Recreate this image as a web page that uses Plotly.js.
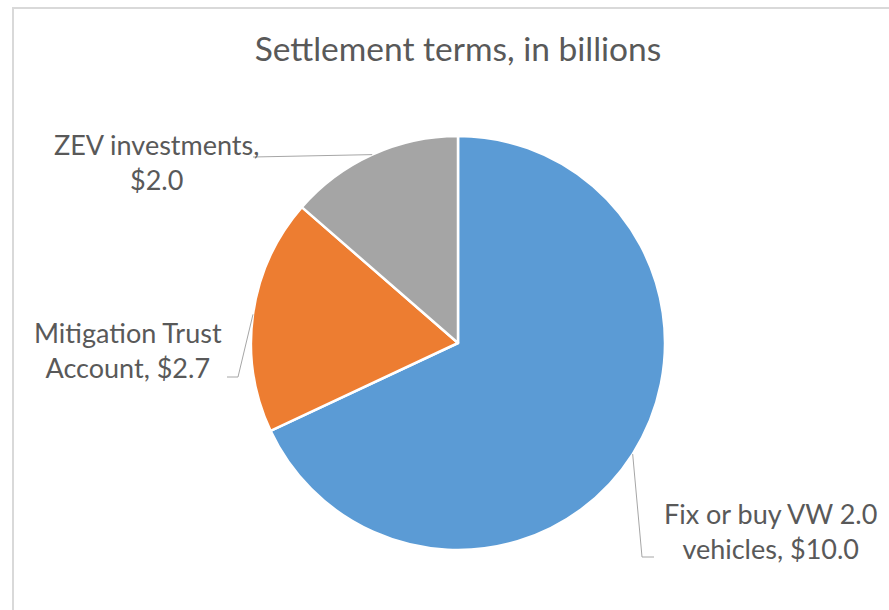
<!DOCTYPE html>
<html><head><meta charset="utf-8">
<script src="https://cdn.plot.ly/plotly-3.0.1.min.js"></script>
<style>html,body{margin:0;padding:0;background:#fff}#chart{width:889px;height:610px}</style>
</head><body><div id="chart"></div>
<script>
// ---- data ----
const categories = ["Fix or buy VW 2.0 vehicles", "Mitigation Trust Account", "ZEV investments"];
const values = [10.0, 2.7, 2.0];
const colors = ["#5B9BD5", "#ED7D31", "#A5A5A5"];
const chartTitle = "Settlement terms, in billions";
// character index where Excel wrapped each data label
const wrapAt = [17, 16, 16];

// ---- layout constants (pixels) ----
const W = 889, H = 610;
const cx = 458, cy = 343, R = 207;
const labelCenter = [[770, 531], [128, 350], [156, 162]];
const leaderElbow = [[642, 557], [238, 377], null];
const leaderEnd = [[654, 557], [227, 377], [253, 157]];
const FONT = "Lato, 'Open Sans', sans-serif";
const TXT = "#595959";

const px = x => x / W, py = y => 1 - y / H;

const total = values.reduce((a, b) => a + b, 0);
const annotations = [], shapes = [];
let cum = 0;
values.forEach((v, i) => {
  const full = categories[i] + ", $" + v.toFixed(1);
  const text = full.slice(0, wrapAt[i]) + "<br>" + full.slice(wrapAt[i] + 1);
  annotations.push({
    xref: "paper", yref: "paper", x: px(labelCenter[i][0]), y: py(labelCenter[i][1]),
    xanchor: "center", yanchor: "middle", align: "center", showarrow: false,
    text: text, font: {family: FONT, size: 27, color: TXT}
  });
  const mid = (cum + v / 2) / total * 2 * Math.PI;
  cum += v;
  const ex = cx + R * Math.sin(mid), ey = cy - R * Math.cos(mid);
  const pts = [[ex, ey]];
  if (leaderElbow[i]) pts.push(leaderElbow[i]);
  pts.push(leaderEnd[i]);
  for (let k = 0; k < pts.length - 1; k++) {
    shapes.push({type: "line", xref: "paper", yref: "paper",
      x0: px(pts[k][0]), y0: py(pts[k][1]), x1: px(pts[k + 1][0]), y1: py(pts[k + 1][1]),
      line: {color: "#A6A6A6", width: 1}});
  }
});
// chart area border
shapes.push({type: "rect", xref: "paper", yref: "paper",
  x0: px(13), y0: py(8), x1: px(900), y1: py(620),
  line: {color: "#D9D9D9", width: 2}, fillcolor: "rgba(0,0,0,0)"});

const trace = {
  type: "pie", labels: categories, values: values, sort: false,
  direction: "clockwise", rotation: 0, textinfo: "none", hoverinfo: "label+value",
  marker: {colors: colors, line: {color: "#FFFFFF", width: 2.5}},
  domain: {x: [px(cx - R), px(cx + R)], y: [py(cy + R), py(cy - R)]},
  showlegend: false
};

const layout = {
  width: W, height: H, margin: {l: 0, r: 0, t: 0, b: 0},
  paper_bgcolor: "#FFFFFF", showlegend: false,
  title: {text: chartTitle, x: px(458), xanchor: "center", y: py(49), yanchor: "middle",
    font: {family: FONT, size: 33.5, color: TXT}},
  annotations: annotations, shapes: shapes
};
Plotly.newPlot("chart", [trace], layout, {displayModeBar: false, staticPlot: true});
</script></body></html>
